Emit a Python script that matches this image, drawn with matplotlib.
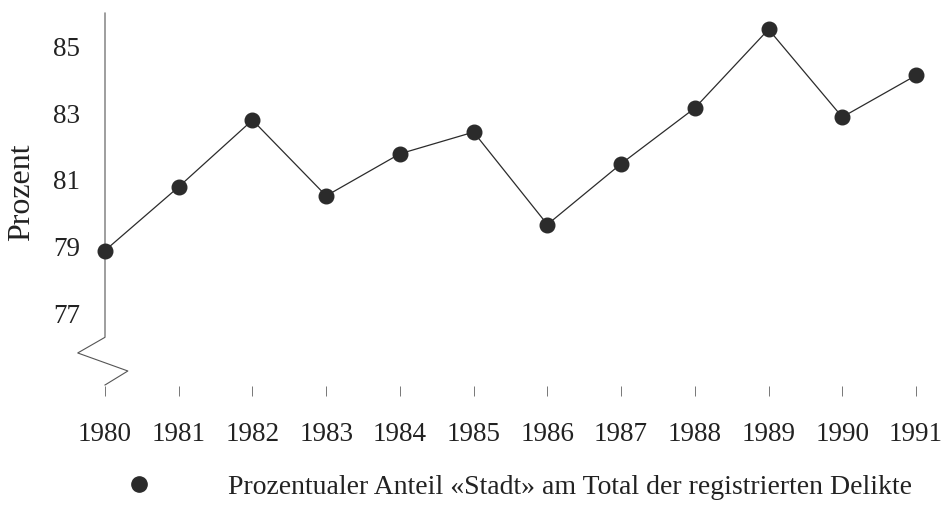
import matplotlib
matplotlib.use('Agg')
import matplotlib.pyplot as plt
from matplotlib.lines import Line2D

plt.rcParams['font.family'] = ['Liberation Serif', 'DejaVu Serif']

years = [1980, 1981, 1982, 1983, 1984, 1985, 1986, 1987, 1988, 1989, 1990, 1991]
anteil_stadt = [78.88, 80.79, 82.79, 80.52, 81.78, 82.43,
                79.66, 81.48, 83.15, 85.51, 82.88, 84.13]
y_ticks = [77, 79, 81, 83, 85]
legend_label = 'Prozentualer Anteil «Stadt» am Total der registrierten Delikte'

INK = '#2b2b2b'

fig = plt.figure(figsize=(9.44, 5.08), dpi=100)
ax = fig.add_axes([105/944, 1 - 386/508, 811/944, 373/508])

ax.plot(years, anteil_stadt, color=INK, lw=0.9, marker='o', markersize=10.5,
        markerfacecolor=INK, markeredgecolor=INK, clip_on=False, zorder=3)

ax.set_xlim(1980, 1991)
ax.set_ylim(74.82, 86)

# y axis with break symbol at the bottom
for s in ax.spines.values():
    s.set_visible(False)
brk_x = [1980, 1980, 1979.63, 1980.31, 1980]
brk_y = [86, 76.28, 75.81, 75.27, 74.85]
ax.plot(brk_x, brk_y, color='#555555', lw=0.8, clip_on=False, zorder=2)

ax.set_yticks(y_ticks)
ax.set_xticks(years)
ax.tick_params(axis='y', length=0, pad=18, labelsize=19.5, labelcolor='#222222')
ax.tick_params(axis='x', length=7, width=0.7, color='#777777', direction='out',
               pad=19, labelsize=19.5, labelcolor='#222222')

fig.text(22/944, 1 - 192/508, 'Prozent', rotation=90, ha='center', va='center',
         fontsize=23, color='#222222')

handle = Line2D([], [], color=INK, lw=0, marker='o', markersize=11)
fig.legend([handle], [legend_label], loc='center left',
           bbox_to_anchor=(125/944, 1 - 487/508), frameon=False,
           borderpad=0, borderaxespad=0, handlelength=1.0, handletextpad=2.7,
           fontsize=20, labelcolor='#222222')

fig.savefig('out.png', dpi=100)
